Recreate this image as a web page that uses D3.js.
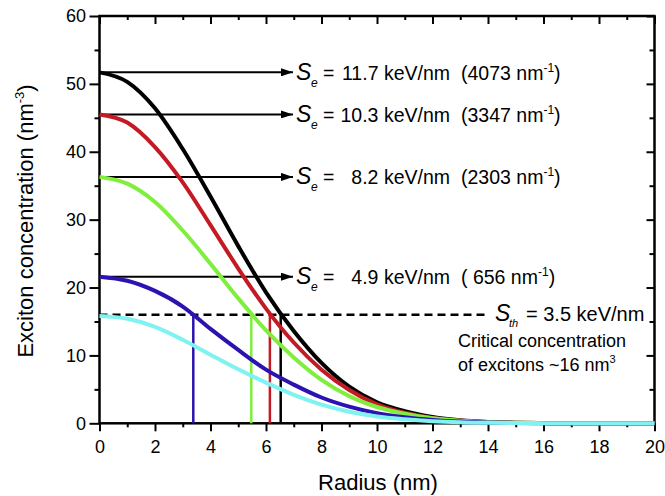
<!DOCTYPE html>
<html>
<head>
<meta charset="utf-8">
<script src="https://cdn.jsdelivr.net/npm/d3@7"></script>
<style>
  body { margin: 0; background: #fff; }
  text { font-family: "Liberation Sans", Arial, sans-serif; fill: #000; }
</style>
</head>
<body>
<script>
// values (exciton concentration, nm^-3)
const radius = [0, 1, 2, 3, 4, 5, 6, 7, 8, 9, 10, 11, 12, 13, 14, 15, 16, 17, 18, 19, 20];
const black = [51.7, 50.3, 46.4, 40.4, 33.4, 26.1, 19.3, 13.6, 8.9, 5.4, 3.1, 1.8, 0.95, 0.45, 0.2, 0.08, 0.03, 0, 0, 0, 0];
const red = [45.5, 44.3, 40.7, 35.5, 29.2, 22.8, 16.9, 11.9, 7.9, 4.9, 2.8, 1.55, 0.8, 0.4, 0.18, 0.08, 0.03, 0, 0, 0, 0];
const green = [36.3, 35.3, 32.6, 28.4, 23.5, 18.4, 13.7, 9.7, 6.4, 4.0, 2.4, 1.4, 0.73, 0.37, 0.18, 0.08, 0.03, 0, 0, 0, 0];
const blue = [21.6, 21.0, 19.5, 17.2, 13.9, 10.8, 7.9, 5.7, 3.8, 2.45, 1.5, 0.9, 0.5, 0.25, 0.12, 0.05, 0.02, 0, 0, 0, 0];
const cyan = [15.8, 15.4, 14.2, 12.3, 10.1, 7.95, 6.0, 4.2, 2.75, 1.7, 1.0, 0.6, 0.32, 0.16, 0.08, 0.04, 0.02, 0, 0, 0, 0];

const seValues = ["11.7", "10.3", "8.2", "4.9"];
const perNm = ["4073", "3347", "2303", " 656"];
const threshold = 16;
const critRadius = [3.38, 5.47, 6.14, 6.53];

const xMajor = [0, 2, 4, 6, 8, 10, 12, 14, 16, 18, 20];
const xMinor = [1, 3, 5, 7, 9, 11, 13, 15, 17, 19];
const yMajor = [0, 10, 20, 30, 40, 50, 60];
const yMinor = [5, 15, 25, 35, 45, 55];

const colBlack = "#000000", colRed = "#c41a24", colGreen = "#7fee3d", colBlue = "#2c12b0", colCyan = "#80f2f2";

const W = 665, H = 496;
const x = d3.scaleLinear().domain([0, 20]).range([99.5, 654.5]);
const y = d3.scaleLinear().domain([0, 60]).range([423.3, 16]);

const svg = d3.select("body").append("svg").attr("width", W).attr("height", H);

// axes
function styleAxis(g) {
    g.select(".domain").remove();
    g.selectAll(".tick line").attr("stroke", "#000").attr("stroke-width", 2);
    g.selectAll(".tick text").attr("font-size", 18).attr("font-family", "Liberation Sans, Arial, sans-serif");
}
const y0 = y(0), y60 = y(60), x0 = x(0), x20 = x(20);

svg.append("g").attr("transform", `translate(0,${y0})`)
    .call(d3.axisBottom(x).tickValues(xMajor).tickSize(8).tickPadding(9)).call(styleAxis);
svg.append("g").attr("transform", `translate(0,${y0})`)
    .call(d3.axisBottom(x).tickValues(xMinor).tickSize(4).tickFormat("")).call(styleAxis);
svg.append("g").attr("transform", `translate(0,${y60})`)
    .call(d3.axisTop(x).tickValues(xMajor).tickSize(-8).tickFormat("")).call(styleAxis);
svg.append("g").attr("transform", `translate(0,${y60})`)
    .call(d3.axisTop(x).tickValues(xMinor).tickSize(-4).tickFormat("")).call(styleAxis);
svg.append("g").attr("transform", `translate(${x0},0)`)
    .call(d3.axisLeft(y).tickValues(yMajor).tickSize(10).tickPadding(3.5)).call(styleAxis);
svg.append("g").attr("transform", `translate(${x0},0)`)
    .call(d3.axisLeft(y).tickValues(yMinor).tickSize(5).tickFormat("")).call(styleAxis);
svg.append("g").attr("transform", `translate(${x20},0)`)
    .call(d3.axisRight(y).tickValues(yMajor).tickSize(-8).tickFormat("")).call(styleAxis);
svg.append("g").attr("transform", `translate(${x20},0)`)
    .call(d3.axisRight(y).tickValues(yMinor).tickSize(-5).tickFormat("")).call(styleAxis);

svg.append("rect")
    .attr("x", x0).attr("y", y60)
    .attr("width", x20 - x0).attr("height", y0 - y60)
    .attr("fill", "none").attr("stroke", "#000").attr("stroke-width", 2.5);

// axis titles
svg.append("text")
    .attr("x", (x0 + x20) / 2 + 1).attr("y", 490)
    .attr("text-anchor", "middle").attr("font-size", 22)
    .text("Radius (nm)");

const yt = svg.append("text")
    .attr("transform", "translate(33,221) rotate(-90)")
    .attr("text-anchor", "middle").attr("font-size", 22);
yt.append("tspan").text("Exciton concentration (nm");
yt.append("tspan").attr("font-size", 13).attr("dy", -9).text("-3");
yt.append("tspan").attr("dy", 9).text(")");

// arrows from each peak
svg.append("defs").append("marker")
    .attr("id", "head").attr("viewBox", "0 0 12 8")
    .attr("refX", 12).attr("refY", 4)
    .attr("markerWidth", 12).attr("markerHeight", 8)
    .attr("markerUnits", "userSpaceOnUse").attr("orient", "auto")
    .append("path").attr("d", "M0,0 L12,4 L0,8 Z").attr("fill", "#000");

const peaks = [black[0], red[0], green[0], blue[0]];
const arrowEnd = 293;

peaks.forEach((p, i) => {
    const yy = y(p);
    svg.append("line")
        .attr("x1", x0).attr("x2", arrowEnd)
        .attr("y1", yy).attr("y2", yy)
        .attr("stroke", "#000").attr("stroke-width", 2)
        .attr("marker-end", "url(#head)");

    const base = yy + 7.5;
    svg.append("text").attr("x", 296).attr("y", base)
        .attr("font-family", "Liberation Serif, serif").attr("font-style", "italic")
        .attr("font-size", 23).text("S");
    svg.append("text").attr("x", 311).attr("y", base + 7)
        .attr("font-style", "italic").attr("font-size", 12).text("e");
    svg.append("text").attr("x", 323).attr("y", base)
        .attr("font-size", 19.5).text("=");
    svg.append("text").attr("x", 450).attr("y", base)
        .attr("text-anchor", "end").attr("font-size", 19.5)
        .text(seValues[i] + " keV/nm");
    if (i < perNm.length) {
        const t = svg.append("text").attr("x", 461).attr("y", base)
            .attr("font-size", 19.5).style("white-space", "pre");
        t.append("tspan").text("(" + perNm[i] + " nm");
        t.append("tspan").attr("font-size", 12).attr("dy", -8).text("-1");
        t.append("tspan").attr("dy", 8).text(")");
    }
});

// critical concentration line
svg.append("line")
    .attr("x1", x0).attr("x2", x(13.95))
    .attr("y1", y(threshold)).attr("y2", y(threshold))
    .attr("stroke", "#000").attr("stroke-width", 2.5)
    .attr("stroke-dasharray", "8,5");

svg.append("text").attr("x", 495).attr("y", 321)
    .attr("font-family", "Liberation Serif, serif").attr("font-style", "italic")
    .attr("font-size", 23).text("S");
svg.append("text").attr("x", 509).attr("y", 327)
    .attr("font-style", "italic").attr("font-size", 11).text("th");
svg.append("text").attr("x", 526).attr("y", 321)
    .attr("font-size", 20).style("white-space", "pre").text("= 3.5 keV/nm");

svg.append("text").attr("x", 458).attr("y", 347)
    .attr("font-size", 18).text("Critical concentration");
const ct = svg.append("text").attr("x", 458).attr("y", 371).attr("font-size", 18);
ct.append("tspan").text("of excitons ~16 nm");
ct.append("tspan").attr("font-size", 11).attr("dy", -8).text("3");

// critical radius markers
const curveColors = [colBlue, colGreen, colRed, colBlack];
critRadius.forEach((r, i) => {
    svg.append("line")
        .attr("x1", x(r)).attr("x2", x(r))
        .attr("y1", y(0)).attr("y2", y(threshold))
        .attr("stroke", curveColors[i]).attr("stroke-width", 2.5);
});

// concentration profiles
const series = [
    { values: black, color: colBlack },
    { values: red, color: colRed },
    { values: green, color: colGreen },
    { values: blue, color: colBlue },
    { values: cyan, color: colCyan }
];

const line = d3.line()
    .x((d, i) => x(radius[i]))
    .y(d => y(d))
    .curve(d3.curveMonotoneX);

svg.selectAll(".profile")
    .data(series)
    .enter()
    .append("path")
    .attr("class", "profile")
    .attr("d", d => line(d.values))
    .attr("fill", "none")
    .attr("stroke", d => d.color)
    .attr("stroke-width", 4);
</script>
</body>
</html>
